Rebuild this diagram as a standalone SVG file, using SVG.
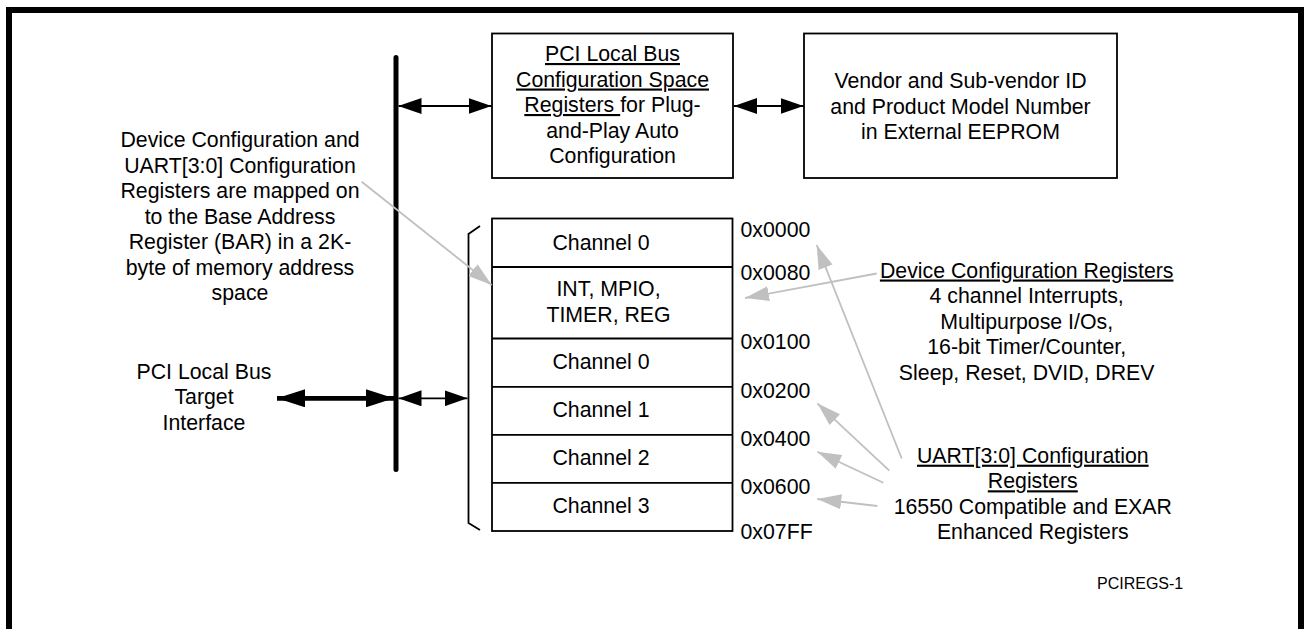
<svg xmlns="http://www.w3.org/2000/svg" width="1304" height="629" viewBox="0 0 1304 629">
  <style>
    text { font-family: "Liberation Sans", Arial, sans-serif; font-size: 21.3px; fill: #000; }
    .mid { text-anchor: middle; }
    .u { text-decoration: underline; }
    .box { fill: #fff; stroke: #000; stroke-width: 1.8; }
    .thin { stroke: #000; stroke-width: 1.8; fill: none; }
    .gray { stroke: #c0c0c0; stroke-width: 1.8; fill: none; }
    .small { font-size: 16px; }
  </style>
  <defs>
    <marker id="ah" markerUnits="userSpaceOnUse" markerWidth="23" markerHeight="16" viewBox="0 0 23 16" refX="23" refY="8" orient="auto-start-reverse">
      <path d="M0,0 L23,8 L0,16 z" fill="#000"/>
    </marker>
    <marker id="ahb" markerUnits="userSpaceOnUse" markerWidth="28" markerHeight="18" viewBox="0 0 28 18" refX="28" refY="9" orient="auto-start-reverse">
      <path d="M0,0 L28,9 L0,18 z" fill="#000"/>
    </marker>
    <marker id="ahg" markerUnits="userSpaceOnUse" markerWidth="24" markerHeight="15" viewBox="0 0 24 15" refX="24" refY="7.5" orient="auto">
      <path d="M0,0 L24,7.5 L0,15 z" fill="#c0c0c0"/>
    </marker>
  </defs>

  <rect x="0" y="0" width="1304" height="629" fill="#fff"/>
  <rect x="9" y="10" width="1292" height="700" fill="none" stroke="#000" stroke-width="6"/>

  <g id="bus">
    <line x1="396" y1="57.5" x2="396" y2="469.5" stroke="#000" stroke-width="5" stroke-linecap="round"/>
  </g>

  <g id="pci-config-box">
    <rect class="box" x="492" y="33.5" width="241" height="144.5"/>
    <text class="mid" x="612.5" y="61"><tspan class="u">PCI Local Bus</tspan></text>
    <text class="mid" x="612.5" y="86.5"><tspan class="u">Configuration Space</tspan></text>
    <text class="mid" x="612.5" y="112" xml:space="preserve"><tspan class="u">Registers </tspan>for Plug-</text>
    <text class="mid" x="612.5" y="137.5">and-Play Auto</text>
    <text class="mid" x="612.5" y="163">Configuration</text>
  </g>

  <g id="eeprom-box">
    <rect class="box" x="804" y="33.5" width="313" height="144.5"/>
    <text class="mid" x="960.5" y="88">Vendor and Sub-vendor ID</text>
    <text class="mid" x="960.5" y="113.5">and Product Model Number</text>
    <text class="mid" x="960.5" y="139">in External EEPROM</text>
  </g>

  <g id="register-map">
    <rect class="box" x="492" y="218.5" width="240.5" height="312.5"/>
    <line class="thin" x1="492" y1="267" x2="732.5" y2="267"/>
    <line class="thin" x1="492" y1="338.5" x2="732.5" y2="338.5"/>
    <line class="thin" x1="492" y1="386.8" x2="732.5" y2="386.8"/>
    <line class="thin" x1="492" y1="434.8" x2="732.5" y2="434.8"/>
    <line class="thin" x1="492" y1="482.8" x2="732.5" y2="482.8"/>
    <text class="mid" x="601" y="249.5">Channel 0</text>
    <text class="mid" x="608.5" y="296">INT, MPIO,</text>
    <text class="mid" x="608.5" y="321.5">TIMER, REG</text>
    <text class="mid" x="601" y="369">Channel 0</text>
    <text class="mid" x="601" y="417">Channel 1</text>
    <text class="mid" x="601" y="465">Channel 2</text>
    <text class="mid" x="601" y="513">Channel 3</text>
    <path class="thin" d="M480,226 L468.5,234 L468.5,523 L480,530"/>
  </g>

  <g id="addresses">
    <text x="740.5" y="236.5">0x0000</text>
    <text x="740.5" y="280">0x0080</text>
    <text x="740.5" y="349">0x0100</text>
    <text x="740.5" y="397.5">0x0200</text>
    <text x="740.5" y="445.5">0x0400</text>
    <text x="740.5" y="494">0x0600</text>
    <text x="740.5" y="538.5">0x07FF</text>
  </g>

  <g id="bar-note">
    <text class="mid" x="240" y="147">Device Configuration and</text>
    <text class="mid" x="240" y="172.5">UART[3:0] Configuration</text>
    <text class="mid" x="240" y="198">Registers are mapped on</text>
    <text class="mid" x="240" y="223.5">to the Base Address</text>
    <text class="mid" x="240" y="249">Register (BAR) in a 2K-</text>
    <text class="mid" x="240" y="274.5">byte of memory address</text>
    <text class="mid" x="240" y="300">space</text>
  </g>

  <g id="target-interface">
    <text class="mid" x="204" y="378.5">PCI Local Bus</text>
    <text class="mid" x="204" y="404">Target</text>
    <text class="mid" x="204" y="429.5">Interface</text>
  </g>

  <g id="device-config-note">
    <text class="mid" x="1026.7" y="277.5"><tspan class="u">Device Configuration Registers</tspan></text>
    <text class="mid" x="1026.7" y="303">4 channel Interrupts,</text>
    <text class="mid" x="1026.7" y="328.5">Multipurpose I/Os,</text>
    <text class="mid" x="1026.7" y="354">16-bit Timer/Counter,</text>
    <text class="mid" x="1026.7" y="379.5">Sleep, Reset, DVID, DREV</text>
  </g>

  <g id="uart-config-note">
    <text class="mid" x="1032.8" y="462.7"><tspan class="u">UART[3:0] Configuration</tspan></text>
    <text class="mid" x="1032.8" y="488.3"><tspan class="u">Registers</tspan></text>
    <text class="mid" x="1032.8" y="513.5">16550 Compatible and EXAR</text>
    <text class="mid" x="1032.8" y="538.5">Enhanced Registers</text>
  </g>

  <g id="figure-id">
    <text class="small" x="1097" y="589">PCIREGS-1</text>
  </g>

  <g id="connectors">
    <line class="thin" x1="398.5" y1="106" x2="491.5" y2="106" marker-start="url(#ah)" marker-end="url(#ah)"/>
    <line class="thin" x1="734" y1="106" x2="803.5" y2="106" marker-start="url(#ah)" marker-end="url(#ah)"/>
    <line class="thin" x1="398.5" y1="398.3" x2="467.5" y2="398.3" marker-start="url(#ah)" marker-end="url(#ah)"/>
    <line x1="277" y1="398.3" x2="394" y2="398.3" stroke="#000" stroke-width="4.7" marker-start="url(#ahb)" marker-end="url(#ahb)"/>
    <line class="gray" x1="361.7" y1="181.7" x2="491.7" y2="285" marker-end="url(#ahg)"/>
    <line class="gray" x1="876.7" y1="273.5" x2="745" y2="298" marker-end="url(#ahg)"/>
    <line class="gray" x1="901.7" y1="458.5" x2="816.7" y2="245" marker-end="url(#ahg)"/>
    <line class="gray" x1="889.3" y1="470.7" x2="817.3" y2="403.3" marker-end="url(#ahg)"/>
    <line class="gray" x1="883.3" y1="482.7" x2="817.3" y2="451.7" marker-end="url(#ahg)"/>
    <line class="gray" x1="877.3" y1="506" x2="817.3" y2="499" marker-end="url(#ahg)"/>
  </g>
</svg>
